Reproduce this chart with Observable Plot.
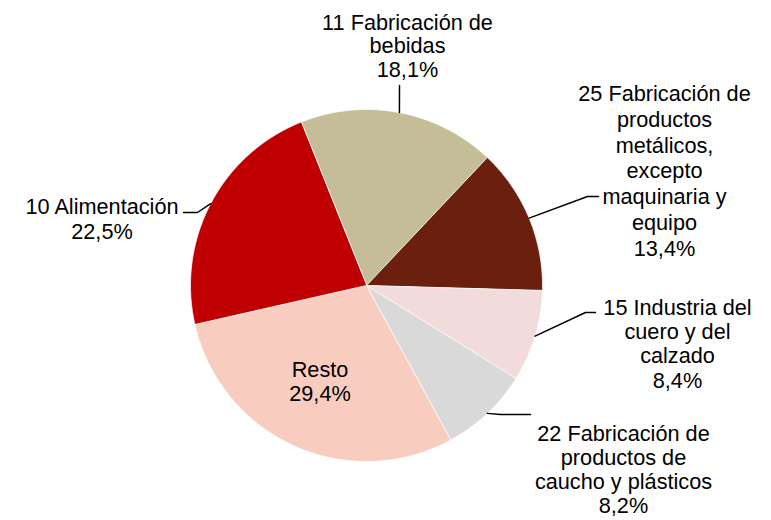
<!DOCTYPE html>
<html><head><meta charset="utf-8">
<script src="https://cdn.jsdelivr.net/npm/d3@7"></script>
<script src="https://cdn.jsdelivr.net/npm/@observablehq/plot@0.6"></script>
<style>html,body{margin:0;padding:0;background:#fff;}</style>
</head><body><div id="chart"></div>
<script>
// ---- data ----
const categories = [
  "11 Fabricación de bebidas",
  "25 Fabricación de productos metálicos, excepto maquinaria y equipo",
  "15 Industria del cuero y del calzado",
  "22 Fabricación de productos de caucho y plásticos",
  "Resto",
  "10 Alimentación"
];
const labelLines = [
  ["11 Fabricación de", "bebidas"],
  ["25 Fabricación de", "productos", "metálicos,", "excepto", "maquinaria y", "equipo"],
  ["15 Industria del", "cuero y del", "calzado"],
  ["22 Fabricación de", "productos de", "caucho y plásticos"],
  ["Resto"],
  ["10 Alimentación"]
];
const shares = [18.1, 13.4, 8.4, 8.2, 29.4, 22.5];
const colors = ["#C4BD97", "#6B1F0F", "#F2DCDB", "#D9D9D9", "#F8CDC0", "#C00000"];

// ---- layout (pixels) ----
const W = 771, H = 520, cx = 366, cy = 285, R = 176, startDeg = -21.8;
const FS = 21.7;
const labelPos = [
  {x: 407, y: 45.2, lh: 1.09, elbows: [[399, 85]]},
  {x: 664, y: 169.6, lh: 1.19, elbows: [[587, 196], [598, 196]]},
  {x: 677, y: 343, lh: 1.12, elbows: [[585, 312], [595, 312]]},
  {x: 623, y: 469, lh: 1.11, elbows: [[500, 414], [530, 414]]},
  {x: 319.5, y: 380.5, lh: 1.15, elbows: null},
  {x: 101.5, y: 217.8, lh: 1.15, elbows: [[197, 212], [183, 212]]}
];

const fmt = v => v.toFixed(1).replace(".", ",") + "%";
const start = startDeg * Math.PI / 180;
const arcs = d3.pie().sort(null).value(d => d).startAngle(start).endAngle(start + 2 * Math.PI)(shares);
const pt = (a, r) => [cx + r * Math.sin(a), cy - r * Math.cos(a)];

const sliceRows = [];
arcs.forEach((arc, i) => {
  sliceRows.push({name: categories[i], x: cx, y: cy, fill: colors[i]});
  const n = Math.max(2, Math.ceil((arc.endAngle - arc.startAngle) / 0.005));
  for (let k = 0; k <= n; k++) {
    const a = arc.startAngle + (arc.endAngle - arc.startAngle) * k / n;
    const [x, y] = pt(a, R);
    sliceRows.push({name: categories[i], x, y, fill: colors[i]});
  }
});

const leaderRows = [];
arcs.forEach((arc, i) => {
  const lp = labelPos[i];
  if (!lp.elbows) return;
  const mid = (arc.startAngle + arc.endAngle) / 2;
  const [x0, y0] = pt(mid, R);
  leaderRows.push({name: categories[i], x: x0, y: y0});
  lp.elbows.forEach(([x, y]) => leaderRows.push({name: categories[i], x, y}));
});

const textMarks = arcs.map((arc, i) => Plot.text(
  [{x: labelPos[i].x, y: labelPos[i].y, text: [...labelLines[i], fmt(shares[i])].join("\n")}],
  {x: "x", y: "y", text: "text", fontSize: FS, lineHeight: labelPos[i].lh,
   textAnchor: "middle", lineAnchor: "middle", fill: "#000"}
));

const chart = Plot.plot({
  width: W, height: H,
  margin: 0,
  x: {domain: [0, W], range: [0, W], axis: null},
  y: {domain: [0, H], range: [0, H], axis: null},
  style: {fontFamily: "'Liberation Sans', Arial, sans-serif", background: "#fff"},
  marks: [
    Plot.line(sliceRows, {x: "x", y: "y", z: "name", fill: "fill", stroke: "#fff", strokeWidth: 0.8, curve: "linear-closed"}),
    Plot.line(leaderRows, {x: "x", y: "y", z: "name", stroke: "#000", strokeWidth: 1.5}),
    ...textMarks
  ]
});
document.getElementById("chart").appendChild(chart);
</script>
</body></html>
